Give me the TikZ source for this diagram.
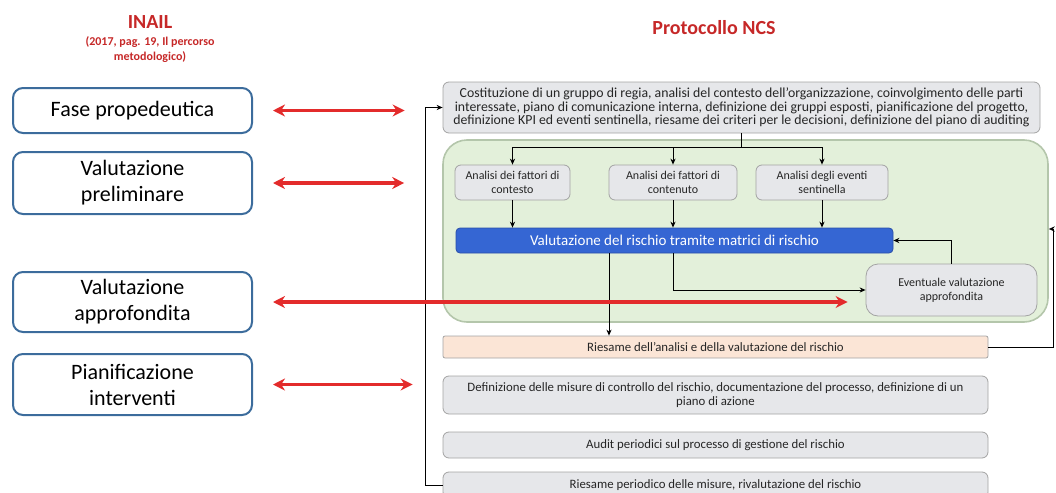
\documentclass[tikz,border=0pt]{standalone}
\usepackage{fontspec}
\setmainfont{Carlito}
\usetikzlibrary{arrows.meta}
\definecolor{grigio}{HTML}{E6E7EA}
\definecolor{bordo}{HTML}{A3A3A3}
\definecolor{verde}{HTML}{E3F0DA}
\definecolor{verdebordo}{HTML}{B4C6AB}
\definecolor{pesca}{HTML}{FBE5D6}
\definecolor{blu}{HTML}{3566D3}
\definecolor{blubordo}{HTML}{2A4FA8}
\definecolor{rosso}{HTML}{E32B2B}
\definecolor{titolo}{HTML}{C62828}
\definecolor{fasebordo}{HTML}{3C6C9C}
\tikzset{
	fasebox/.style={draw=fasebordo, line width=1pt, rounded corners=5pt, fill=white, minimum width=119.5pt, align=center, font=\fontsize{11}{13}\selectfont},
	stepbox/.style={draw=bordo, fill=grigio, rounded corners=3pt, align=center, inner sep=0pt, text=black!85, font=\fontsize{6.4}{7.2}\selectfont},
	conn/.style={-{Stealth[length=3pt,width=2.6pt]}, line width=0.5pt},
	doppia/.style={{Stealth[length=6pt,width=6pt]}-{Stealth[length=6pt,width=6pt]}, rosso, line width=1.6pt},
}
\begin{document}
\begin{tikzpicture}[x=0.5pt, y=-0.5pt]
			\useasboundingbox (0,0) rectangle (1056,493);
			% titoli
			\node[titolo, font=\fontsize{10}{12}\selectfont\bfseries] (inail) at (150,22) {INAIL};
			\node[titolo, font=\fontsize{6}{7.5}\selectfont\bfseries, align=center] (fonte) at (150,50) {(2017, pag. 19, Il percorso\\metodologico)};
			\node[titolo, font=\fontsize{10}{12}\selectfont\bfseries] (ncs) at (714,28) {Protocollo NCS};
			% fasi INAIL
			\node[fasebox, minimum height=22.5pt] (fase) at (132.5,110.5) {Fase propedeutica};
			\node[fasebox, minimum height=31pt] (prelim) at (132.5,183) {Valutazione\\preliminare};
			\node[fasebox, minimum height=30pt] (approf) at (132.5,302) {Valutazione\\approfondita};
			\node[fasebox, minimum height=30.5pt] (pianif) at (132.5,384.5) {Pianificazione\\interventi};
			% area verde
			\node[draw=verdebordo, fill=verde, rounded corners=12pt, minimum width=302.5pt, minimum height=91pt, line width=0.8pt] (area) at (745.5,231) {};
			% passi del protocollo
			\node[stepbox, minimum width=298.5pt, minimum height=25.5pt, font=\fontsize{6.9}{6.8}\selectfont] (top) at (741.5,107.5) {Costituzione di un gruppo di regia, analisi del contesto dell'organizzazione, coinvolgimento delle parti\\interessate, piano di comunicazione interna, definizione dei gruppi esposti, pianificazione del progetto,\\definizione KPI ed eventi sentinella, riesame dei criteri per le decisioni, definizione del piano di auditing};
			\node[stepbox, minimum width=57.5pt, minimum height=17.5pt, font=\fontsize{6}{7}\selectfont] (contesto) at (512.5,182.5) {Analisi dei fattori di\\contesto};
			\node[stepbox, minimum width=64pt, minimum height=17.5pt, font=\fontsize{6}{7}\selectfont] (contenuto) at (673,182.5) {Analisi dei fattori di\\contenuto};
			\node[stepbox, minimum width=66pt, minimum height=17.5pt, font=\fontsize{6}{7}\selectfont] (eventi) at (822,182.5) {Analisi degli eventi\\sentinella};
			\node[draw=blubordo, fill=blu, text=white, rounded corners=2pt, inner sep=0pt, minimum width=218.5pt, minimum height=12.5pt, font=\fontsize{7.5}{8.5}\selectfont] (matrici) at (674.5,240.5) {Valutazione del rischio tramite matrici di rischio};
			\node[stepbox, minimum width=85.5pt, minimum height=26pt, rounded corners=6pt, font=\fontsize{6}{7}\selectfont] (eventuale) at (951.5,290) {Eventuale valutazione\\approfondita};
			\node[stepbox, fill=pesca, rounded corners=1pt, minimum width=272.5pt, minimum height=11pt] (riesame) at (715.5,347) {Riesame dell'analisi e della valutazione del rischio};
			\node[stepbox, minimum width=272.5pt, minimum height=19pt] (misure) at (715.5,395) {Definizione delle misure di controllo del rischio, documentazione del processo, definizione di un\\piano di azione};
			\node[stepbox, minimum width=272.5pt, minimum height=13pt] (audit) at (715.5,445) {Audit periodici sul processo di gestione del rischio};
			\node[stepbox, minimum width=272.5pt, minimum height=13pt] (periodico) at (715.5,485) {Riesame periodico delle misure, rivalutazione del rischio};
			% collegamenti
			\coordinate (split) at (741,147);
			\draw (top.south -| split) -- (split);
			\draw (contesto |- split) -- (eventi |- split);
			\foreach \n in {contesto, contenuto, eventi} {
				\draw[conn] (\n |- split) -- (\n.north);
				\draw[conn] (\n.south) -- (\n |- matrici.north);
			}
			\draw[conn] (matrici.south -| contenuto) |- (eventuale.west);
			\draw[conn] (eventuale.north) |- (matrici.east);
			\coordinate (giu) at (609,253);
			\draw[conn] (giu) -- (giu |- riesame.north);
			\coordinate (ritorno) at (1053,347);
			\draw[conn] (riesame.east) -- (ritorno) -- (ritorno |- 0,229) -- (area.east |- 0,229);
			\coordinate (anello) at (425,485);
			\draw[conn] (periodico.west) -- (anello) |- (top.west);
			% frecce rosse
			\draw[doppia, shorten <=10pt, shorten >=19pt] (fase.east) -- (fase.east -| top.west);
			\draw[doppia, shorten <=10pt, shorten >=19pt] (prelim.east) -- (prelim.east -| area.west);
			\draw[doppia, shorten <=10pt, shorten >=9pt] (approf.east) -- (approf.east -| eventuale.west);
			\draw[doppia, shorten <=10pt, shorten >=15pt] (pianif.east) -- (pianif.east -| misure.west);
		\end{tikzpicture}
\end{document}
